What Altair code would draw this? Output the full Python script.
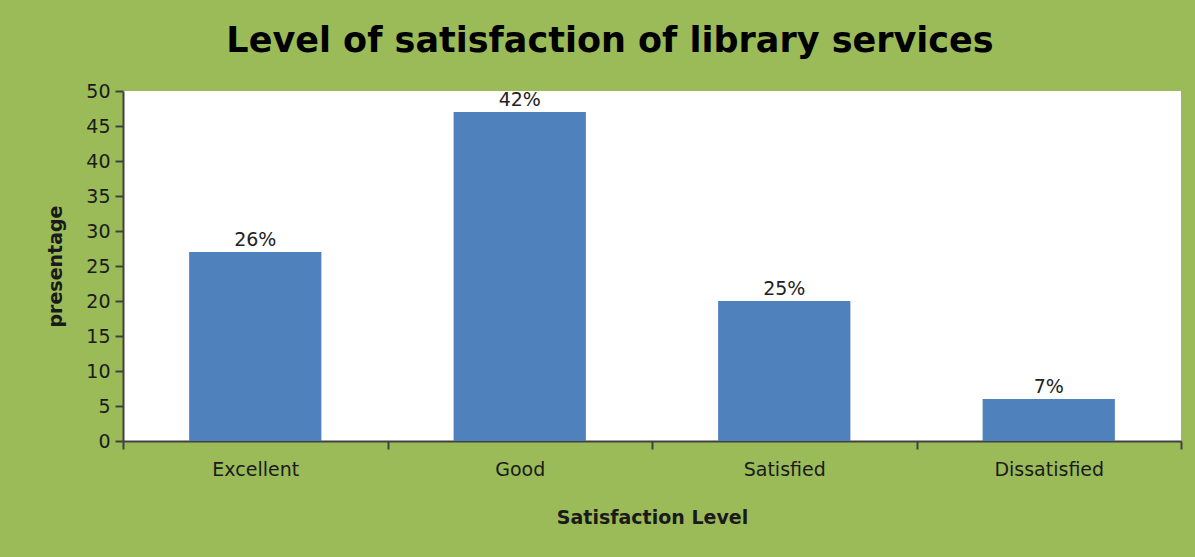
import altair as alt
import pandas as pd

categories = ["Excellent", "Good", "Satisfied", "Dissatisfied"]
values = [27, 47, 20, 6]
labels = ["26%", "42%", "25%", "7%"]

df = pd.DataFrame({"level": categories, "value": values, "label": labels})

FONT = "DejaVu Sans"
GREEN = "#9BBB59"
INK = "#1a1a1a"

base = alt.Chart(df).encode(
    x=alt.X(
        "level:N",
        sort=categories,
        scale=alt.Scale(paddingInner=0, paddingOuter=0),
        axis=alt.Axis(
            title="Satisfaction Level",
            labelAngle=0,
            tickBand="extent",
            tickSize=8,
            labelPadding=11,
            titlePadding=29,
            labelFontSize=19,
            titleFontSize=19,
            labelFont=FONT,
            titleFont=FONT,
            labelColor=INK,
            titleColor=INK,
            domainColor="#404040",
            tickColor="#404040",
            domainWidth=2,
            tickWidth=2,
            grid=False,
        ),
    ),
    y=alt.Y(
        "value:Q",
        scale=alt.Scale(domain=[0, 50], nice=False),
        axis=alt.Axis(
            title="presentage",
            values=list(range(0, 55, 5)),
            tickSize=8,
            labelPadding=5,
            titlePadding=20,
            labelFontSize=19,
            titleFontSize=19,
            labelFont=FONT,
            titleFont=FONT,
            labelColor=INK,
            titleColor=INK,
            domainColor="#404040",
            tickColor="#404040",
            domainWidth=2,
            tickWidth=2,
            grid=False,
        ),
    ),
)

bars = base.mark_bar(color="#4F81BD", width=alt.RelativeBandSize(0.5))
text = base.mark_text(dy=-12, fontSize=19, font=FONT, color="#222222").encode(text="label:N")

chart = (
    (bars + text)
    .properties(
        width=1058,
        height=350,
        title=alt.TitleParams(
            "Level of satisfaction of library services",
            fontSize=35,
            font=FONT,
            fontWeight="bold",
            color="#000000",
            anchor="middle",
            dx=-42,
            offset=23,
        ),
        background=GREEN,
        padding={"left": 123, "top": 91, "right": 14, "bottom": 116},
        autosize=alt.AutoSizeParams(type="none"),
    )
    .configure_view(fill="white", stroke=None)
)

chart.save("out.html", embed_options={"renderer": "svg", "actions": False})
